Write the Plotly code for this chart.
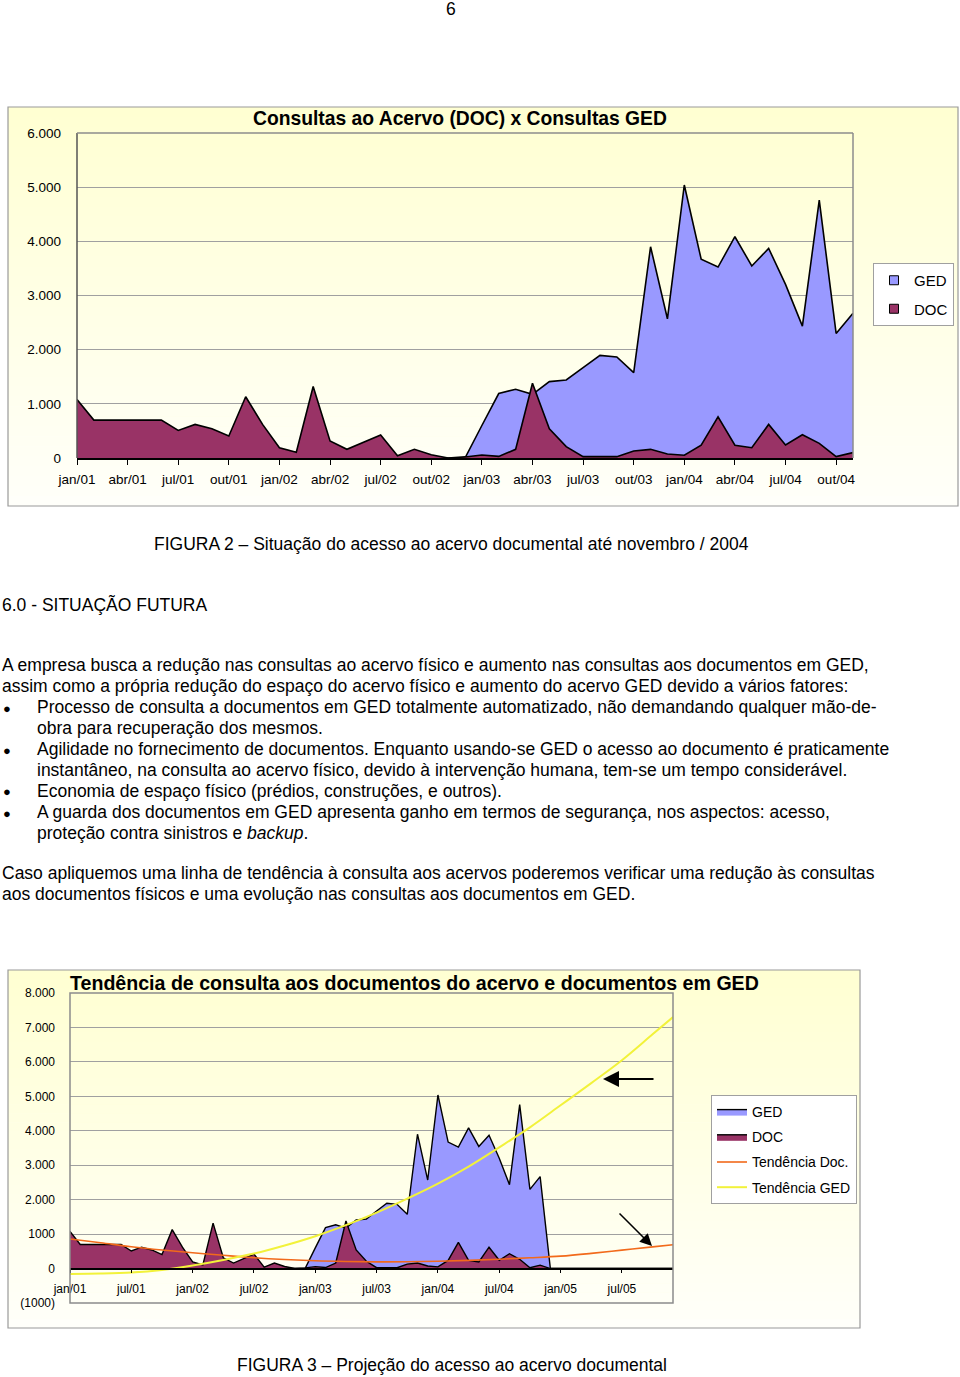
import plotly.graph_objects as go

W, H = 960, 1377
FONT = "Liberation Sans, Arial, Helvetica, sans-serif"

# ---------------- categories ----------------
month_names = ["jan", "fev", "mar", "abr", "mai", "jun", "jul", "ago", "set", "out", "nov", "dez"]
years = ["01", "02", "03", "04", "05"]
months_all = [f"{m}/{y}" for y in years for m in month_names]   # jan/01 .. dez/05
months_hist = months_all[:47]                                    # jan/01 .. nov/04

# ---------------- data ----------------
doc_consultas = [1080, 700, 700, 700, 700, 700, 510, 620, 540, 405, 1130, 620,
                 190, 105, 1320, 313, 160, 295, 423, 40, 160, 60, 0, 20,
                 55, 30, 160, 1380, 540, 210, 25, 25, 25, 130, 160, 75,
                 50, 235, 760, 235, 190, 620, 240, 430, 270, 25, 100]
ged_consultas = [0, 0, 0, 0, 0, 0, 0, 0, 0, 0, 0, 0,
                 0, 0, 0, 0, 0, 0, 0, 0, 0, 0, 0, 0,
                 600, 1190, 1270, 1175, 1410, 1440, 1670, 1895, 1865, 1575, 3900, 2570,
                 5040, 3670, 3525, 4085, 3545, 3870, 3205, 2435, 4760, 2300, 2670]
# dez/04 .. dez/05 in the projection chart: series at zero
doc_proj_zero = [0, 0, 0, 0, 0, 0, 0, 0, 0, 0, 0, 0, 0]
ged_proj_zero = [0, 0, 0, 0, 0, 0, 0, 0, 0, 0, 0, 0, 0]

trend_months = ["jan/01", "abr/01", "jul/01", "out/01", "jan/02", "abr/02", "jul/02", "out/02",
                "jan/03", "abr/03", "jul/03", "out/03", "jan/04", "abr/04", "jul/04", "out/04",
                "jan/05", "abr/05", "jul/05", "out/05", "dez/05"]
trend_doc = [860, 750, 635, 540, 460, 385, 315, 262, 225, 205, 195, 198, 212, 237, 272, 312,
             360, 440, 535, 630, 690]
trend_ged = [-155, -145, -115, -40, 90, 250, 435, 670, 940, 1260, 1625, 2030, 2465, 2960, 3520, 4100,
             4740, 5385, 6050, 6800, 7300]

c1_y_ticks = [0, 1000, 2000, 3000, 4000, 5000, 6000]
c1_y_labels = ["0", "1.000", "2.000", "3.000", "4.000", "5.000", "6.000"]
c2_y_ticks = [-1000, 0, 1000, 2000, 3000, 4000, 5000, 6000, 7000, 8000]
c2_y_labels = ["(1000)", "0", "1000", "2.000", "3.000", "4.000", "5.000", "6.000", "7.000", "8.000"]
c1_x_ticks = months_hist[::3]
c2_x_ticks = months_all[::6]

GED_FILL = "#9999FF"
DOC_FILL = "#993366"


def py(y):
    return 1 - y / H


def px(x):
    return x / W


fig = go.Figure()

# ---------------- chart 1 ----------------
fig.add_trace(go.Scatter(x=months_hist, y=ged_consultas, mode="lines", fill="tozeroy",
                         fillcolor=GED_FILL, line=dict(color="black", width=1.6),
                         xaxis="x", yaxis="y", showlegend=False, name="GED"))
fig.add_trace(go.Scatter(x=months_hist, y=doc_consultas, mode="lines", fill="tozeroy",
                         fillcolor=DOC_FILL, line=dict(color="black", width=1.6),
                         xaxis="x", yaxis="y", showlegend=False, name="DOC"))
# legend entries (square swatches)
fig.add_trace(go.Scatter(x=[None], y=[None], mode="markers", name="GED",
                         marker=dict(symbol="square", size=9, color=GED_FILL,
                                     line=dict(color="black", width=1)),
                         xaxis="x", yaxis="y", legend="legend", legendgroup="a"))
fig.add_trace(go.Scatter(x=[None], y=[None], mode="markers", name="DOC",
                         marker=dict(symbol="square", size=9, color=DOC_FILL,
                                     line=dict(color="black", width=1)),
                         xaxis="x", yaxis="y", legend="legend", legendgroup="b"))

# ---------------- chart 2 ----------------
fig.add_trace(go.Scatter(x=months_all, y=ged_consultas + ged_proj_zero, mode="lines", fill="tozeroy",
                         fillcolor=GED_FILL, line=dict(color="black", width=1.4),
                         xaxis="x2", yaxis="y2", name="GED", legend="legend2", legendgroup="c"))
fig.add_trace(go.Scatter(x=months_all, y=doc_consultas + doc_proj_zero, mode="lines", fill="tozeroy",
                         fillcolor=DOC_FILL, line=dict(color="black", width=1.4),
                         xaxis="x2", yaxis="y2", name="DOC", legend="legend2", legendgroup="d"))
fig.add_trace(go.Scatter(x=trend_months, y=trend_doc, mode="lines",
                         line=dict(color="#F26A1B", width=1.6, shape="spline"),
                         xaxis="x2", yaxis="y2", name="Tendência Doc.", legend="legend2", legendgroup="e"))
fig.add_trace(go.Scatter(x=trend_months, y=trend_ged, mode="lines",
                         line=dict(color="#F2F23A", width=2, shape="spline"),
                         xaxis="x2", yaxis="y2", name="Tendência GED", legend="legend2", legendgroup="f"))

# ---------------- shapes: chart boxes with light gradient ----------------
shapes = []


def gradient_box(x0, y0, x1, y1, n=40):
    for i in range(n):
        t = i / (n - 1)
        b = int(210 + (250 - 210) * t)
        ya = y0 + (y1 - y0) * i / n
        yb = y0 + (y1 - y0) * (i + 1) / n + 0.6
        shapes.append(dict(type="rect", xref="paper", yref="paper", x0=px(x0), x1=px(x1),
                           y0=py(ya), y1=py(min(yb, y1)), line=dict(width=0),
                           fillcolor=f"rgb(255,255,{b})", layer="below"))
    shapes.append(dict(type="rect", xref="paper", yref="paper", x0=px(x0), x1=px(x1),
                       y0=py(y0), y1=py(y1), line=dict(color="#9a9a9a", width=1.2),
                       fillcolor="rgba(0,0,0,0)", layer="below"))


gradient_box(8, 107, 958, 506)
gradient_box(8, 970, 860, 1328)

# plot area frames
shapes += [
    dict(type="line", xref="x domain", yref="y domain", x0=0, x1=0, y0=0, y1=1,
         line=dict(color="#555555", width=1.5), layer="above"),
    dict(type="line", xref="x domain", yref="y domain", x0=0, x1=1, y0=1, y1=1,
         line=dict(color="#8c8c8c", width=1.5), layer="above"),
    dict(type="line", xref="x domain", yref="y domain", x0=1, x1=1, y0=0, y1=1,
         line=dict(color="#8c8c8c", width=1.5), layer="above"),
    dict(type="rect", xref="x2 domain", yref="y2 domain", x0=0, x1=1, y0=0, y1=1,
         line=dict(color="#8c8c8c", width=1.5), fillcolor="rgba(0,0,0,0)", layer="above"),
]

# ---------------- text ----------------
annotations = []


def txt(x, y, s, size=17.5, anchor="left", bold=False, color="black"):
    if bold:
        s = f"<b>{s}</b>"
    annotations.append(dict(x=px(x), y=py(y), xref="paper", yref="paper", text=s,
                            showarrow=False, xanchor=anchor, yanchor="middle",
                            font=dict(family=FONT, size=size, color=color)))


txt(451, 9, "6", anchor="center")
txt(460, 119, "Consultas ao Acervo (DOC) x Consultas GED", size=19.3, anchor="center", bold=True)
txt(451, 544, "FIGURA 2 – Situação do acesso ao acervo documental até novembro / 2004", anchor="center")
txt(0, 604, "6.0 - SITUAÇÃO FUTURA")

body = [
    (0, 665, "A empresa busca a redução nas consultas ao acervo físico e aumento nas consultas aos documentos em GED,"),
    (0, 686, "assim como a própria redução do espaço do acervo físico e aumento do acervo GED devido a vários fatores:"),
    (35, 707, "Processo de consulta a documentos em GED totalmente automatizado, não demandando qualquer mão-de-"),
    (35, 728, "obra para recuperação dos mesmos."),
    (35, 749, "Agilidade no fornecimento de documentos. Enquanto usando-se GED o acesso ao documento é praticamente"),
    (35, 770, "instantâneo, na consulta ao acervo físico, devido à intervenção humana, tem-se um tempo considerável."),
    (35, 791, "Economia de espaço físico (prédios, construções, e outros)."),
    (35, 812, "A guarda dos documentos em GED apresenta ganho em termos de segurança, nos aspectos: acesso,"),
    (35, 833, "proteção contra sinistros e <i>backup</i>."),
    (0, 873, "Caso apliquemos uma linha de tendência à consulta aos acervos poderemos verificar uma redução às consultas"),
    (0, 894, "aos documentos físicos e uma evolução nas consultas aos documentos em GED."),
]
for x, y, s in body:
    txt(x, y, s)
for y in [707, 749, 791, 812]:
    txt(7, y + 1, "●", size=13, anchor="center")

txt(68, 983, "Tendência de consulta aos documentos do acervo e documentos em GED", size=19.6, bold=True)
txt(452, 1365, "FIGURA 3 – Projeção do acesso ao acervo documental", anchor="center")

# arrows in chart 2
annotations.append(dict(x=px(603), y=py(1079), xref="paper", yref="paper", text="",
                        showarrow=True, ax=52, ay=0, arrowhead=2, arrowsize=1.6,
                        arrowwidth=2, arrowcolor="black"))
annotations.append(dict(x=px(652), y=py(1246), xref="paper", yref="paper", text="",
                        showarrow=True, ax=-34, ay=-34, arrowhead=2, arrowsize=1.6,
                        arrowwidth=1.5, arrowcolor="black"))

zero_pos_c2 = py(993 + 8 / 9 * (1303 - 993))

fig.update_layout(
    width=W, height=H, margin=dict(l=0, r=0, t=0, b=0, pad=0, autoexpand=False),
    paper_bgcolor="white", plot_bgcolor="#FFFFCC",
    font=dict(family=FONT, color="black"),
    shapes=shapes, annotations=annotations,
    xaxis=dict(domain=[px(77), px(853)], anchor="y", type="category", automargin=False,
               categoryorder="array", categoryarray=months_hist, range=[0, 46],
               tickvals=c1_x_ticks, ticktext=c1_x_ticks, ticks="outside", ticklen=5,
               tickcolor="black", showline=True, linecolor="black", linewidth=1.6,
               showgrid=False, zeroline=False, tickfont=dict(size=13.5),
               ticklabelstandoff=3),
    yaxis=dict(domain=[py(458), py(133)], anchor="x", range=[0, 6000], automargin=False,
               tickvals=c1_y_ticks, ticktext=c1_y_labels, showgrid=True,
               gridcolor="#a0a0a0", gridwidth=1, showline=False, zeroline=False,
               tickfont=dict(size=13.5), ticks="", ticklabelstandoff=15),
    xaxis2=dict(domain=[px(70), px(673)], anchor="free", position=zero_pos_c2, type="category",
                automargin=False,
                categoryorder="array", categoryarray=months_all, range=[0, 59],
                tickvals=c2_x_ticks, ticktext=c2_x_ticks, ticks="outside", ticklen=4,
                tickcolor="black", showline=True, linecolor="black", linewidth=1.5,
                showgrid=False, zeroline=False, tickfont=dict(size=12),
                ticklabelstandoff=5),
    yaxis2=dict(domain=[py(1303), py(993)], anchor="x2", range=[-1000, 8000], automargin=False,
                tickvals=c2_y_ticks, ticktext=c2_y_labels, showgrid=True,
                gridcolor="#a0a0a0", gridwidth=1, showline=False, zeroline=False,
                tickfont=dict(size=12), ticks="", ticklabelstandoff=14),
    legend=dict(x=px(873), y=py(263), xanchor="left", yanchor="top",
                bgcolor="white", bordercolor="#a0a0a0", borderwidth=1,
                font=dict(size=15), tracegroupgap=6, itemwidth=30),
    legend2=dict(x=px(711), y=py(1095), xanchor="left", yanchor="top",
                 bgcolor="white", bordercolor="#a0a0a0", borderwidth=1,
                 font=dict(size=14), tracegroupgap=4, itemwidth=30),
)

fig.write_html("out.html")
